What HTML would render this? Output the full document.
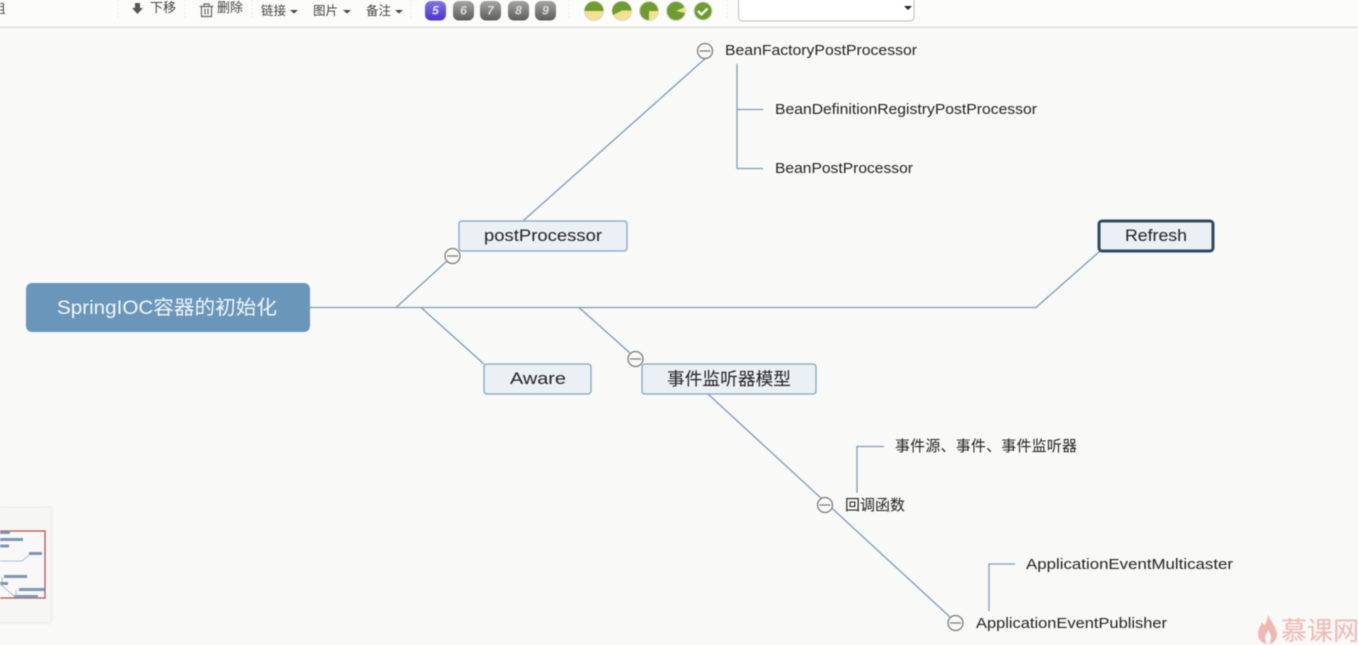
<!DOCTYPE html>
<html><head><meta charset="utf-8"><style>
html,body{margin:0;padding:0;background:#f9f9f8;width:1358px;height:645px;overflow:hidden}
svg{display:block;filter:blur(.4px)}
text{font-family:"Liberation Sans","Noto Sans CJK SC",sans-serif;fill:#222}
.tb{font-size:12.5px;fill:#444}
.n{font-size:15px}
.num{font-size:12px;font-weight:bold;font-style:italic;fill:#ddd;text-anchor:middle}
</style></head><body>
<svg width="1358" height="645" viewBox="0 0 1358 645" xmlns="http://www.w3.org/2000/svg">
<defs>
<linearGradient id="gr" x1="0" y1="0" x2="0" y2="1"><stop offset="0" stop-color="#a5a5a3"/><stop offset="1" stop-color="#5c5c5a"/></linearGradient>
<linearGradient id="pu" x1="0" y1="0" x2="0" y2="1"><stop offset="0" stop-color="#8375e4"/><stop offset="1" stop-color="#4a35c8"/></linearGradient>
<filter id="sh" x="-20%" y="-20%" width="140%" height="140%"><feDropShadow dx="0" dy="0" stdDeviation="2" flood-color="#000" flood-opacity=".12"/></filter>
</defs>
<!-- toolbar -->
<rect x="0" y="0" width="1358" height="27" fill="#fcfcfb"/>
<rect x="0" y="26.500" width="1358" height="1.500" fill="#dedede"/>
<g stroke="#ebebe9" stroke-dasharray="2 2">
<line x1="118" y1="0" x2="118" y2="20"/><line x1="185" y1="0" x2="185" y2="20"/><line x1="252" y1="0" x2="252" y2="20"/><line x1="411" y1="0" x2="411" y2="20"/><line x1="569" y1="0" x2="569" y2="20"/><line x1="727" y1="0" x2="727" y2="20"/>
</g>
<text x="-7" y="13" class="tb">组</text>
<path d="M135 3h5v5h3l-5.500 6-5.500-6h3z" fill="#555"/>
<text x="150" y="12" class="tb" style="font-size:13px" textLength="26">下移</text>
<g fill="none" stroke="#666" stroke-width="1.200"><path d="M199.500 6.500h14M201.500 6.500v10h10v-10M204 6.500v-2.500h5v2.500M205 8.500v6M208 8.500v6"/></g>
<text x="217" y="12" class="tb" style="font-size:13px" textLength="26">删除</text>
<text x="261" y="15" class="tb" textLength="25">链接</text><path d="M290 10h8l-4 3.500z" fill="#444"/>
<text x="313" y="15" class="tb" textLength="25">图片</text><path d="M343 10h8l-4 3.500z" fill="#444"/>
<text x="366" y="15" class="tb" textLength="25">备注</text><path d="M395 10h8l-4 3.500z" fill="#444"/>
<rect x="425" y="1" width="21" height="19.500" rx="6" fill="url(#pu)"/><text x="435.500" y="14.500" class="num" style="fill:#e8e4ff">5</text>
<rect x="453" y="1" width="21" height="19.500" rx="6" fill="url(#gr)"/><text x="463.500" y="14.500" class="num">6</text>
<rect x="480" y="1" width="21" height="19.500" rx="6" fill="url(#gr)"/><text x="490.500" y="14.500" class="num">7</text>
<rect x="508" y="1" width="21" height="19.500" rx="6" fill="url(#gr)"/><text x="518.500" y="14.500" class="num">8</text>
<rect x="535" y="1" width="21" height="19.500" rx="6" fill="url(#gr)"/><text x="545.500" y="14.500" class="num">9</text>
<g>
<circle cx="594" cy="11" r="9.500" fill="#f4e08f" stroke="#d8d8d0"/><path d="M584.500 11a9.500 9.500 0 0 1 19 0z" fill="#6f9c2f"/>
<circle cx="622" cy="11" r="9.500" fill="#f4e08f" stroke="#d8d8d0"/><path d="M622 10.500L613 15a9.500 9.500 0 0 1 9-13.500 9.500 9.500 0 0 1 9.500 9z" fill="#6f9c2f"/>
<circle cx="649" cy="11" r="9.500" fill="#6f9c2f" stroke="#d8d8d0"/><path d="M649 11h9.500a9.500 9.500 0 0 1-9.500 9.500z" fill="#f4e08f"/>
<circle cx="676" cy="11" r="9.500" fill="#6f9c2f" stroke="#d8d8d0"/><path d="M676 11l9-4a9.500 9.500 0 0 1 .3 6z" fill="#f4e08f"/>
<circle cx="703" cy="11" r="9" fill="#6f9c2f" stroke="#d8d8d0"/><path d="M698 11l3.500 3.500 6-6" fill="none" stroke="#fff" stroke-width="2.200"/>
</g>
<path d="M738.500 0v17a4 4 0 0 0 4 4H910a4 4 0 0 0 4-4V0" fill="#fff" stroke="#bdbdbd"/>
<path d="M904 6h8l-4 4z" fill="#222"/>
<!-- connectors -->
<g fill="none" stroke="#7c9db8" stroke-width="1.300">
<path d="M309 307.500H1036L1100 251"/>
<path d="M396 307.500L447 261"/>
<path d="M421 307.500L484 364"/>
<path d="M579 307.500L630 353"/>
<path d="M523 221L708 56"/>
<path d="M737 64V168.500H763M737 109.500H763"/>
<path d="M708 394L950 617"/>
<path d="M857 493V446.500H884"/>
<path d="M989 611V564H1015"/>
</g>
<!-- nodes -->
<rect x="26" y="283" width="284" height="49" rx="6" fill="#6a97b9"/>
<text x="57" y="314" style="font-size:19.500px;fill:#f2f6f9" textLength="220" lengthAdjust="spacingAndGlyphs">SpringIOC容器的初始化</text>
<rect x="459" y="221" width="168" height="30" rx="3" fill="#ebf0f4" stroke="#7fa7c6" stroke-width="1.300"/>
<text x="484" y="241" style="font-size:17px" textLength="118" lengthAdjust="spacingAndGlyphs">postProcessor</text>
<rect x="1099" y="221" width="114" height="30" rx="3" fill="#ebf0f4" stroke="#2e4a5e" stroke-width="3"/>
<text x="1125" y="241" style="font-size:17px" textLength="62" lengthAdjust="spacingAndGlyphs">Refresh</text>
<rect x="484" y="364" width="107" height="30" rx="3" fill="#ebf0f4" stroke="#7fa7c6" stroke-width="1.300"/>
<text x="510" y="384" style="font-size:17px" textLength="56" lengthAdjust="spacingAndGlyphs">Aware</text>
<rect x="642" y="364" width="174" height="30" rx="3" fill="#ebf0f4" stroke="#7fa7c6" stroke-width="1.300"/>
<text x="667" y="385" style="font-size:17.700px" textLength="124">事件监听器模型</text>
<!-- leaf text -->
<text x="725" y="55" class="n" textLength="192" lengthAdjust="spacingAndGlyphs">BeanFactoryPostProcessor</text>
<text x="775" y="114" class="n" textLength="262" lengthAdjust="spacingAndGlyphs">BeanDefinitionRegistryPostProcessor</text>
<text x="775" y="173" class="n" textLength="138" lengthAdjust="spacingAndGlyphs">BeanPostProcessor</text>
<text x="895" y="451" style="font-size:15px" textLength="182">事件源、事件、事件监听器</text>
<text x="845" y="510" style="font-size:15px" textLength="60">回调函数</text>
<text x="1026" y="569" class="n" textLength="207" lengthAdjust="spacingAndGlyphs">ApplicationEventMulticaster</text>
<text x="976" y="628" class="n" textLength="191" lengthAdjust="spacingAndGlyphs">ApplicationEventPublisher</text>
<!-- collapse buttons -->
<g fill="#f8f8f7" stroke="#777" stroke-width="1.200">
<circle cx="705" cy="51" r="7.500"/><path d="M699.500 51h11"/>
<circle cx="452.500" cy="256" r="7.500"/><path d="M447 256h11"/>
<circle cx="635.500" cy="359" r="7.500"/><path d="M630 359h11"/>
<circle cx="825" cy="505" r="7.500"/><path d="M819.500 505h11"/>
<circle cx="955.500" cy="623" r="7.500"/><path d="M950 623h11"/>
</g>
<!-- minimap -->
<rect x="-10" y="508" width="60.500" height="114" fill="#f6f6f5" filter="url(#sh)"/>
<rect x="-10" y="531" width="55" height="67" fill="#f8f8f9" stroke="#bb5057" stroke-width="1.300"/>
<g fill="#7d97b2">
<rect x="0" y="531" width="10" height="3"/><rect x="0" y="538" width="23" height="3"/><rect x="0" y="544.500" width="9" height="3"/>
<rect x="29" y="552" width="13" height="3"/><rect x="4" y="575" width="23" height="3"/><rect x="0" y="582" width="8" height="3"/>
<rect x="19" y="588" width="26" height="3"/><rect x="14" y="595" width="24" height="3"/>
</g>
<path d="M0 561H22L29 555M2 577V582M0 584L14 596M16 590V596" fill="none" stroke="#b4bfc9"/>
<!-- watermark -->
<path d="M1268 614c1 6 8 11 9 20 0 6-4 10-9 10s-10-4-10-10c0-6 3-8 4-12 1 2 2 3 3 3 1-3 3-6 3-11z" fill="#f0b8b4"/>
<path d="M1268 630c2 3 3 5 3 8 0 3-1 5-3 6-2-1-3-3-3-6 0-3 2-5 3-8z" fill="#f8f8f7"/>
<text x="1281" y="640" style="font-size:26px;fill:#f0b8b4" textLength="78">慕课网</text>
</svg>
</body></html>
